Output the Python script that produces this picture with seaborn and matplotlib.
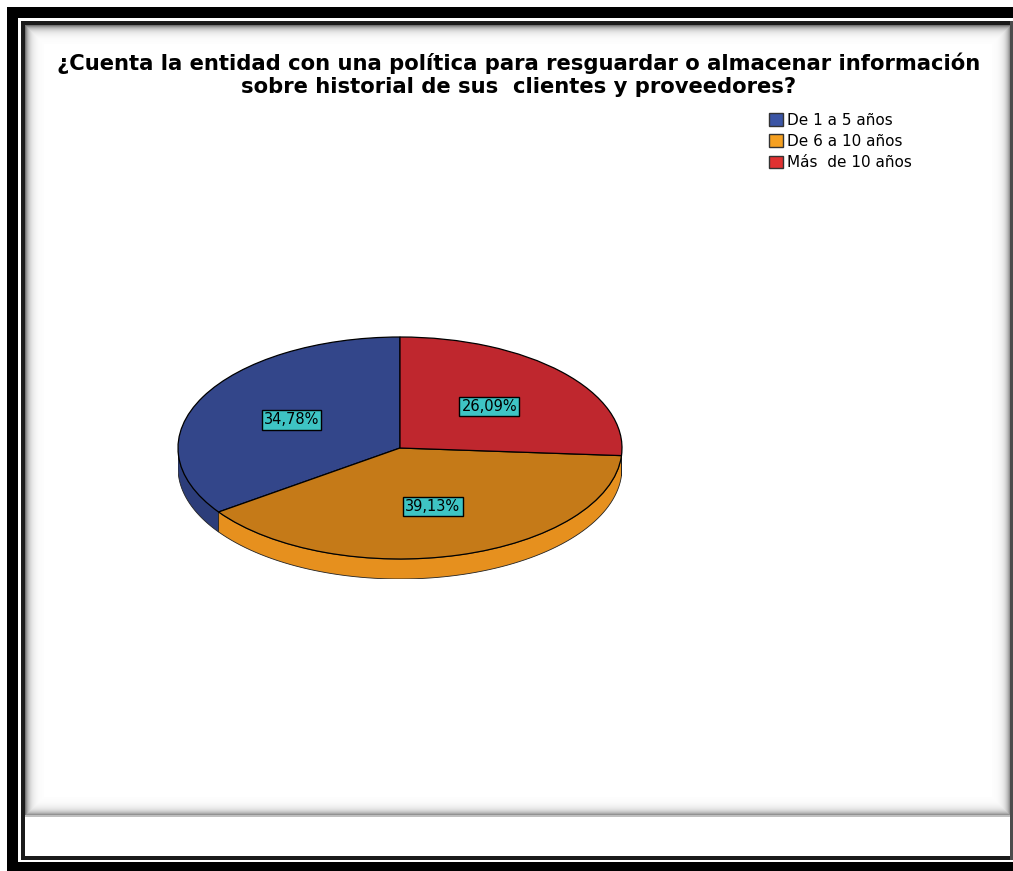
import numpy as np
import matplotlib
matplotlib.use("Agg")
import matplotlib.pyplot as plt
import seaborn as sns
from matplotlib.patches import Polygon, Patch

# data
categories = ["De 1 a 5 años", "De 6 a 10 años", "Más  de 10 años"]
percentages = [34.78, 39.13, 26.09]
top_colors = ["#33468A", "#C57A18", "#BF272E"]
side_colors = ["#2C3D7A", "#E6901E", "#7A1A1E"]
legend_colors = ["#3B55A5", "#F5A021", "#E03131"]
title_lines = ["¿Cuenta la entidad con una política para resguardar o almacenar información",
               "sobre historial de sus  clientes y proveedores?"]

sns.set_theme(style="white")
plt.rcParams["font.family"] = ["DejaVu Sans"]

W, H = 1013, 871
fig = plt.figure(figsize=(W / 100, H / 100), dpi=100)
fig.patch.set_facecolor("white")

# frame background (outer black border, inner border, panel shading)
bg = np.ones((H, W, 3))
bg[7:18, 7:, :] = 0
bg[7:, 7:18, :] = 0
bg[862:, 7:, :] = 0
bg[21:25, 21:1011, :] = 0.1
bg[21:860, 21:25, :] = 0.1
bg[856:860, 21:1011, :] = 0.1
bg[21:860, 1010:1013, :] = 0.3
yy, xx = np.mgrid[0:H, 0:W]
d = np.minimum.reduce([xx - 25, yy - 25, 1010 - xx, 815 - yy]).astype(float)
shade = 1 - 0.55 * np.exp(-np.clip(d, 0, None) / 4.0)
shade = np.where(shade > 0.995, 1.0, shade)
inside = (xx >= 25) & (xx < 1010) & (yy >= 25) & (yy < 815)
for c in range(3):
    bg[..., c] = np.where(inside, shade, bg[..., c])
bg[815:817, 25:1010, :] = 0.75
fig.figimage((bg * 255).round().astype(np.uint8), xo=0, yo=0, zorder=-10, origin="upper")


def fx(px):
    return px / W


def fy(py):
    return 1 - py / H


fig.text(fx(519), fy(70), title_lines[0], ha="center", va="baseline",
         fontsize=15.2, fontweight="bold", color="black")
fig.text(fx(519), fy(93), title_lines[1], ha="center", va="baseline",
         fontsize=15.2, fontweight="bold", color="black")

# pie axes: ellipse centre (400, 448), rx 222, ry 111, depth 20 px
depth = 20 / 111
ax = fig.add_axes([fx(178), fy(579), 444 / W, 242 / H])
ax.set_facecolor("none")

# side walls of the front half
start = 90.0
for val, col in zip(percentages, side_colors):
    end = start + val * 3.6
    a, b = max(start, 180), min(end, 360)
    if b > a:
        t = np.radians(np.linspace(a, b, 80))
        xs = np.cos(t)
        ys = np.sin(t)
        pts = np.column_stack([np.r_[xs, xs[::-1]], np.r_[ys, ys[::-1] - depth]])
        ax.add_patch(Polygon(pts, closed=True, facecolor=col, edgecolor="#222222",
                             linewidth=0.6, zorder=1))
    start = end

wedges, texts, autotexts = ax.pie(
    percentages, colors=top_colors, startangle=90, counterclock=True,
    autopct=lambda p: f"{p:.2f}%".replace(".", ","), pctdistance=0.55,
    wedgeprops=dict(edgecolor="black", linewidth=0.9),
    textprops=dict(fontsize=10.5, color="black"))
for w in wedges:
    w.set_zorder(2)
for t in autotexts:
    t.set_zorder(3)
    t.set_bbox(dict(boxstyle="square,pad=0.15", facecolor="#3EC4C4", edgecolor="black",
                    linewidth=1.0))
ax.set_aspect("auto")
ax.set_xlim(-1, 1)
ax.set_ylim(-1 - depth, 1)
ax.axis("off")

handles = [Patch(facecolor=c, edgecolor="#333333", linewidth=1.0) for c in legend_colors]
leg = fig.legend(handles, categories, loc="upper left", bbox_to_anchor=(fx(769), fy(113)),
                 frameon=False, fontsize=11, handlelength=0.9, handleheight=0.9,
                 handletextpad=0.3, labelspacing=0.4, borderpad=0, borderaxespad=0)
for txt in leg.get_texts():
    txt.set_color("black")

fig.savefig("out.png", dpi=100)
